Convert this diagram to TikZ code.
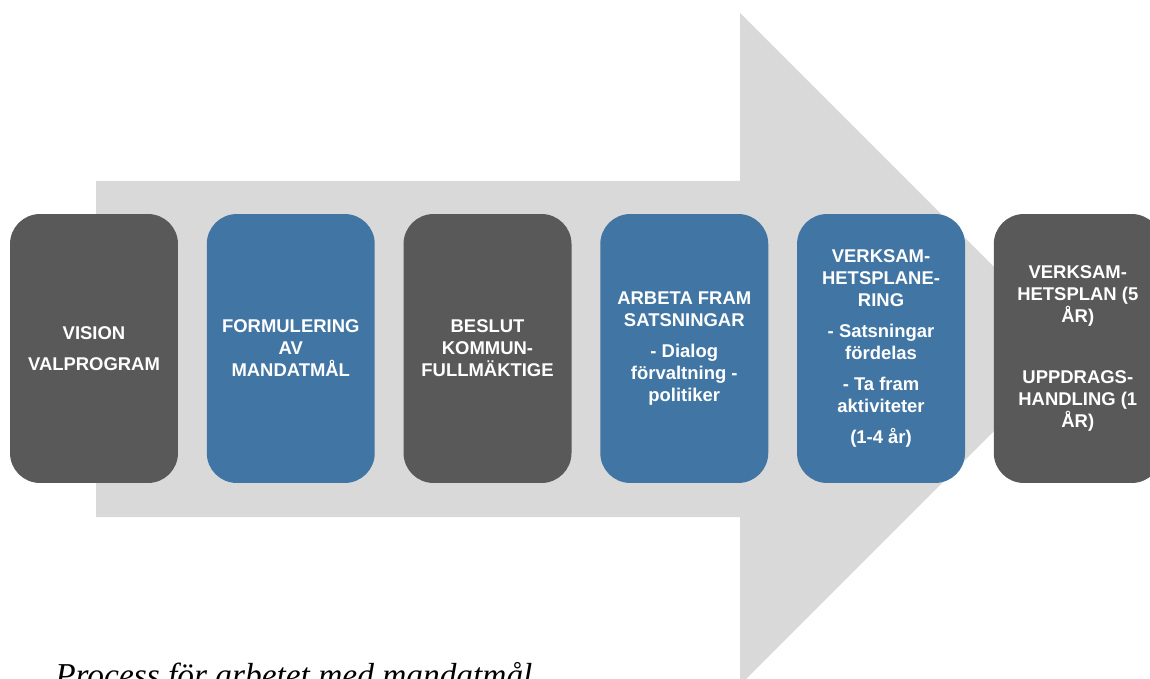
\documentclass[tikz,border=0pt]{standalone}
\usepackage{fontspec}
\setmainfont{Liberation Sans}
\newfontfamily\captionfont{Liberation Serif}
\usetikzlibrary{positioning}
\definecolor{stagegray}{HTML}{595959}
\definecolor{stageblue}{HTML}{4176A4}
\definecolor{arrowgray}{HTML}{D9D9D9}
\newcommand{\stagefont}{\bfseries\fontsize{10.5}{12.5}\selectfont}

\begin{document}
\begin{tikzpicture}[
    x=0.02cm, y=-0.02cm,
    stage/.style={rectangle, rounded corners=0.6cm, minimum width=3.36cm, minimum height=5.38cm,
                  inner sep=0pt, outer sep=0pt, align=center, text=white, font=\stagefont},
    darkstage/.style={stage, fill=stagegray},
    bluestage/.style={stage, fill=stageblue},
    node distance=0.576cm
]
    \useasboundingbox (0,0) rectangle (1150,679);
    \clip (0,0) rectangle (1150,679);

    % Big arrow in the background
    \fill[arrowgray] (96,181) -- (740,181) -- (740,13) -- (1076,349) -- (740,685)
        -- (740,517) -- (96,517) -- cycle;

    % Stages
    \node[darkstage] (vision) at (94,348.5) {VISION\\[5pt]VALPROGRAM};
    \node[bluestage, right=of vision] (formulering) {FORMULERING\\AV\\MANDATMÅL};
    \node[darkstage, right=of formulering] (beslut) {BESLUT\\KOMMUN-\\FULLMÄKTIGE};
    \node[bluestage, right=of beslut] (satsningar) {ARBETA FRAM\\SATSNINGAR\\[5pt]- Dialog\\förvaltning -\\politiker};
    \node[bluestage, right=of satsningar] (planering) {VERKSAM-\\HETSPLANE-\\RING\\[5pt]- Satsningar\\fördelas\\[5pt]- Ta fram\\aktiviteter\\[5pt](1-4 år)};
    \node[darkstage, right=of planering] (plan) {VERKSAM-\\HETSPLAN (5\\ÅR)\\[22pt]UPPDRAGS-\\HANDLING (1\\ÅR)};

    % Caption
    \node[anchor=base west, inner sep=0pt, font=\captionfont\itshape\fontsize{19}{22}\selectfont]
        (caption) at (55,686) {Process för arbetet med mandatmål};
\end{tikzpicture}
\end{document}
